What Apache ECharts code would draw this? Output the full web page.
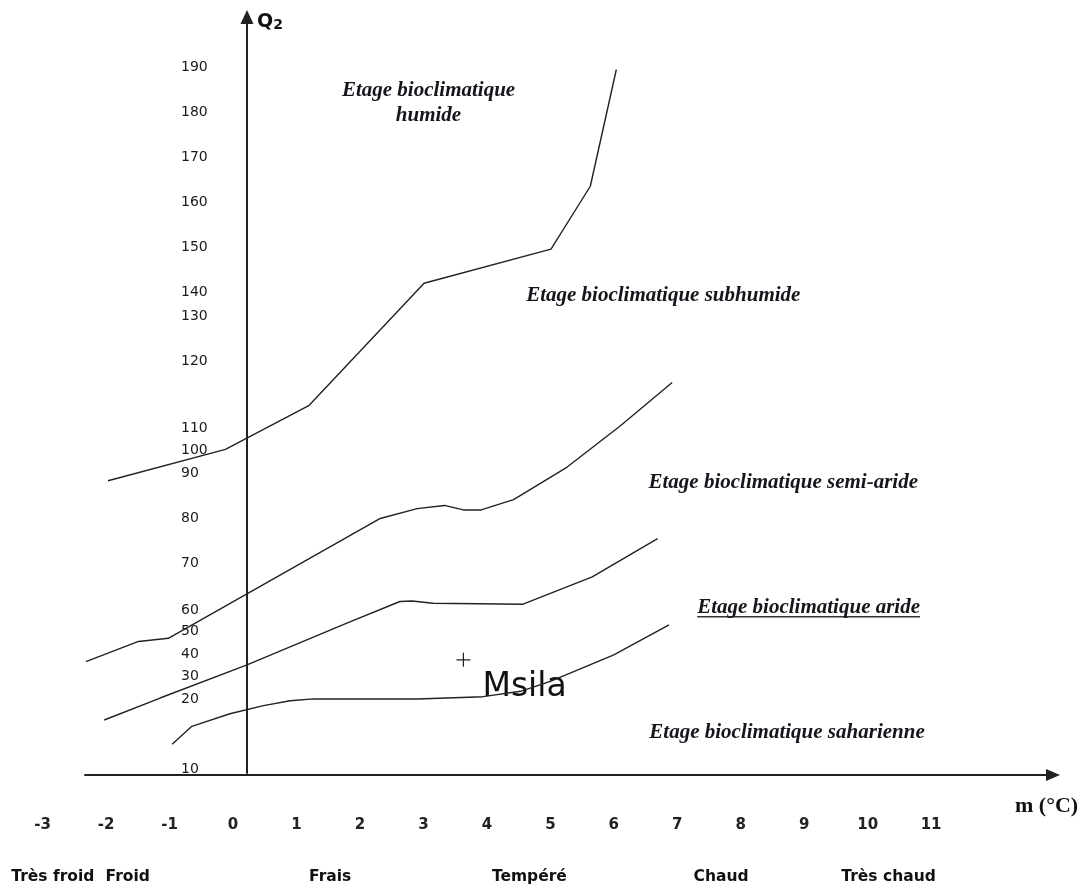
<!DOCTYPE html>
<html><head><meta charset="utf-8">
<script src="https://cdn.jsdelivr.net/npm/echarts@6/dist/echarts.min.js"></script>
<style>html,body{margin:0;padding:0;background:#fff}#c{width:1084px;height:885px}</style>
</head><body><div id="c"></div>
<script>
// ---- data ----
const xLabels = [-3, -2, -1, 0, 1, 2, 3, 4, 5, 6, 7, 8, 9, 10, 11];
const yTickLabels = ['190','180','170','160','150','140','130','120','110','100','90','80','70','60','50','40','30','20','10'];
const yTickPos = [190.1, 180.1, 170.1, 160.1, 150.1, 140.1, 134.8, 124.8, 109.7, 104.8, 99.7, 89.7, 79.7, 69.2, 64.6, 59.4, 54.6, 49.4, 33.9];
const zoneNames = ['Très froid', 'Froid', 'Frais', 'Tempéré', 'Chaud', 'Très chaud'];
const zonePos = [-2.84, -1.66, 1.53, 4.67, 7.69, 10.33];

// limit humide / subhumide
const curve1M = [-1.97, -0.12, 1.20, 3.01, 5.01, 5.63, 6.04];
const curve1Q = [98.1, 105.1, 114.9, 142.1, 149.7, 163.7, 189.7];
// limit subhumide / semi-aride
const curve2M = [-2.32, -1.49, -1.02, 2.32, 2.90, 3.33, 3.63, 3.91, 4.42, 5.26, 6.10, 6.92];
const curve2Q = [57.8, 62.3, 63.0, 89.7, 91.9, 92.6, 91.6, 91.6, 93.9, 101.1, 110.3, 120.0];
// limit semi-aride / aride
const curve3M = [-2.03, -1.15, 0.22, 1.85, 2.63, 2.82, 3.15, 4.57, 5.66, 6.69];
const curve3Q = [44.8, 49.7, 57.1, 66.7, 71.2, 71.3, 70.8, 70.6, 76.7, 85.2];
// limit aride / saharien
const curve4M = [-0.96, -0.65, -0.05, 0.48, 0.90, 1.27, 2.90, 3.94, 4.53, 5.00, 6.00, 6.87];
const curve4Q = [39.4, 43.4, 46.2, 48.0, 49.1, 49.5, 49.5, 50.0, 51.2, 53.4, 59.3, 66.0];

const regionNames = ['Etage bioclimatique\nhumide', 'Etage bioclimatique subhumide', 'Etage bioclimatique semi-aride', 'Etage bioclimatique aride', 'Etage bioclimatique saharienne'];
const regionM = [3.08, 6.78, 8.67, 9.07, 8.73];
const regionQ = [182.3, 139.4, 97.8, 69.8, 42.1];

const stationName = 'Msila';
const stationM = 3.63;
const stationQ = 58.2;

// ---- chart ----
const INK = '#222';
const zip = (a, b) => a.map((v, i) => [v, b[i]]);
const nearestIdx = (arr, v) => { let bi = 0, bd = Infinity; arr.forEach((a, i) => { const d = Math.abs(a - v); if (d < bd) { bd = d; bi = i; } }); return bi; };

const chart = echarts.init(document.getElementById('c'), null, { renderer: 'canvas' });
const lineSeries = (m, q) => ({
  type: 'line', xAxisIndex: 0, yAxisIndex: 0, data: zip(m, q), symbol: 'none', silent: true,
  lineStyle: { color: INK, width: 1.4 }
});
const REGION_SIZE = 21;
const regionFont = { fontFamily: 'Liberation Serif', fontStyle: 'italic', fontWeight: 'bold', fontSize: REGION_SIZE, color: '#15151c' };

chart.setOption({
  animation: false,
  backgroundColor: '#fff',
  title: [
    { text: '{q|Q}{s|2}', left: 252, top: 8,
      textStyle: { rich: {
        q: { fontFamily: 'DejaVu Sans', fontWeight: 'bold', fontSize: 19, color: '#111' },
        s: { fontFamily: 'DejaVu Sans', fontWeight: 'bold', fontSize: 14, color: '#111', padding: [5, 0, 0, 0] }
      } } },
    { text: 'm (°C)', left: 1010, top: 790,
      textStyle: { fontFamily: 'Liberation Serif', fontWeight: 'bold', fontSize: 22, color: '#111' } }
  ],
  grid: [
    { left: 30, right: 26, top: 17, bottom: 110 },
    { left: 85, right: 31, top: 17, bottom: 110 }
  ],
  xAxis: [
    { gridIndex: 0, type: 'value', min: -3.2, max: 13,
      axisLine: { show: false, onZero: false }, axisTick: { show: false }, splitLine: { show: false },
      axisLabel: { customValues: xLabels, margin: 45, fontFamily: 'DejaVu Sans', fontWeight: 'bold', fontSize: 15, color: '#222',
        formatter: v => String(xLabels[nearestIdx(xLabels, v)]) } },
    { gridIndex: 0, type: 'value', min: -3.2, max: 13, position: 'bottom',
      axisLine: { show: false, onZero: false }, axisTick: { show: false }, splitLine: { show: false },
      axisLabel: { customValues: zonePos, margin: 96, fontFamily: 'DejaVu Sans', fontWeight: 'bold', fontSize: 15.5, color: '#111',
        formatter: v => zoneNames[nearestIdx(zonePos, v)] } },
    { gridIndex: 1, type: 'value', min: 0, max: 1,
      axisLine: { show: true, onZero: false, lineStyle: { color: INK, width: 2 }, symbol: ['none', 'triangle'], symbolSize: [12, 14] },
      axisTick: { show: false }, axisLabel: { show: false }, splitLine: { show: false } }
  ],
  yAxis: [
    { gridIndex: 0, type: 'value', min: 33, max: 201.4, offset: -217,
      axisLine: { show: true, onZero: false, lineStyle: { color: INK, width: 2 }, symbol: ['none', 'triangle'], symbolSize: [13, 14] },
      axisTick: { show: false }, splitLine: { show: false },
      axisLabel: { customValues: yTickPos, margin: 66, align: 'left', fontFamily: 'DejaVu Sans', fontSize: 14, color: '#1a1a1a',
        formatter: v => yTickLabels[nearestIdx(yTickPos, v)] } },
    { gridIndex: 1, type: 'value', show: false, min: 0, max: 1 }
  ],
  series: [
    lineSeries(curve1M, curve1Q),
    lineSeries(curve2M, curve2Q),
    lineSeries(curve3M, curve3Q),
    lineSeries(curve4M, curve4Q),
    { type: 'scatter', xAxisIndex: 0, yAxisIndex: 0, silent: true, symbolSize: 1,
      itemStyle: { color: 'rgba(0,0,0,0)', opacity: 1 },
      data: regionNames.map((n, i) => ({ name: n, value: [regionM[i], regionQ[i]] })),
      label: { show: true, position: 'inside', formatter: p => p.name, lineHeight: 25, align: 'center', verticalAlign: 'middle', ...regionFont } },
    { type: 'scatter', xAxisIndex: 0, yAxisIndex: 0, silent: true,
      symbol: 'path://M0,6.4H14V7.6H0Z M6.4,0H7.6V14H6.4Z', symbolSize: 14,
      itemStyle: { color: INK, opacity: 1 },
      data: [{ name: stationName, value: [stationM, stationQ] }],
      label: { show: true, position: [26, 35], align: 'left', verticalAlign: 'middle', formatter: p => p.name,
        fontFamily: 'DejaVu Sans', fontSize: 33, color: '#111' } }
  ]
});

// underline for the "aride" label
(function () {
  const idx = 3;
  const c = document.createElement('canvas').getContext('2d');
  c.font = 'italic bold ' + REGION_SIZE + 'px "Liberation Serif"';
  const w = c.measureText(regionNames[idx]).width;
  const p = chart.convertToPixel({ xAxisIndex: 0, yAxisIndex: 0 }, [regionM[idx], regionQ[idx]]);
  chart.setOption({ graphic: [{ type: 'line', silent: true,
    shape: { x1: p[0] - w / 2, y1: p[1] + 9, x2: p[0] + w / 2, y2: p[1] + 9 },
    style: { stroke: '#333', lineWidth: 1.5 } }] });
})();
</script></body></html>
